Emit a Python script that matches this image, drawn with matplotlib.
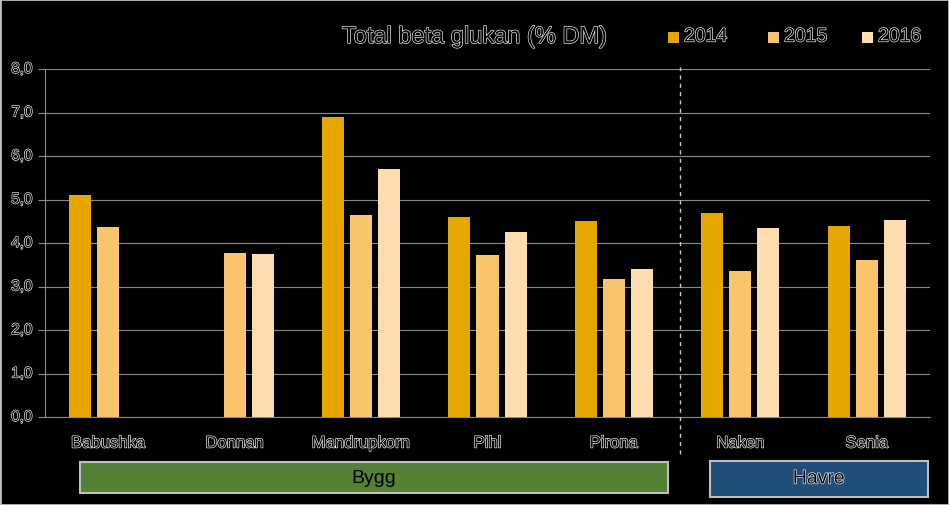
import matplotlib.pyplot as plt
import matplotlib.patheffects as pe
from matplotlib.patches import Rectangle
import numpy as np

# data
categories = ['Babushka', 'Donnan', 'Mandrupkorn', 'Pihl', 'Pirona', 'Naken', 'Senia']
years = ['2014', '2015', '2016']
v2014 = [5.1, np.nan, 6.9, 4.6, 4.5, 4.7, 4.4]
v2015 = [4.37, 3.77, 4.64, 3.72, 3.17, 3.36, 3.61]
v2016 = [np.nan, 3.75, 5.7, 4.25, 3.4, 4.34, 4.53]
groups = [('Bygg', 0, 4), ('Havre', 5, 6)]

colors = ['#E6A800', '#FAC56A', '#FDDDB0']

plt.rcParams['font.family'] = ['Liberation Sans Narrow', 'Liberation Sans', 'DejaVu Sans']


def htext(ax_or_fig, x, y, s, **kw):
    # outlined text, like the original
    t = ax_or_fig.text(x, y, s, color='black', **kw)
    t.set_path_effects([pe.Stroke(linewidth=0.9, foreground='white'), pe.Normal()])
    return t


fig = plt.figure(figsize=(9.49, 5.06), dpi=100, facecolor='black')
ax = fig.add_axes([45 / 949, 88 / 506, 885 / 949, 348 / 506])
ax.set_facecolor('black')

x = np.arange(len(categories))
w = 0.175
off = 0.222
for i, (vals, c) in enumerate(zip([v2014, v2015, v2016], colors)):
    ax.bar(x + (i - 1) * off, vals, width=w, color=c, zorder=3)

ax.set_ylim(0, 8)
ax.set_xlim(-0.5, 6.5)
ax.set_yticks(np.arange(0, 9, 1))
ax.set_yticklabels([])
ax.set_xticks([])
ax.grid(axis='y', color='#8a8a8a', linewidth=0.8, zorder=0)
for s in ['top', 'right']:
    ax.spines[s].set_visible(False)
for s in ['left', 'bottom']:
    ax.spines[s].set_color('#8a8a8a')
ax.tick_params(axis='y', length=5, color='#8a8a8a', direction='out')

# y tick labels
for yv in range(0, 9):
    htext(ax, -0.6, yv, f'{yv},0', ha='right', va='center', fontsize=11)

# category labels
for xi, name in zip(x, categories):
    htext(ax, xi, -0.6, name, ha='center', va='center', fontsize=12)

# separator line between barley and oats
ax.plot([4.52, 4.52], [-0.85, 8.05], color='#b8cce4', linestyle=(0, (3, 3)),
        linewidth=1, clip_on=False, zorder=4)

# group boxes
box_cols = {'Bygg': '#548235', 'Havre': '#1F4E79'}
box_px = {'Bygg': (80, 463, 588, 31), 'Havre': (710, 462, 218, 36)}
for name, i0, i1 in groups:
    bx, by, bw, bh = box_px[name]
    fig.patches.append(Rectangle((bx / 949, 1 - (by + bh) / 506), bw / 949, bh / 506,
                                 transform=fig.transFigure, facecolor=box_cols[name],
                                 edgecolor='#bfbfbf', linewidth=1.5))
    if name == 'Bygg':
        fig.text((bx + bw / 2) / 949, 1 - (by + bh / 2) / 506, name, color='black',
                 ha='center', va='center', fontsize=14)
    else:
        htext(fig, (bx + bw / 2) / 949, 1 - (by + bh / 2) / 506, name,
              ha='center', va='center', fontsize=14)

# title and legend
htext(fig, 475 / 949, 1 - 38 / 506, 'Total beta glukan (% DM)', ha='center', va='center', fontsize=17)
leg_x = [668, 768, 862]
for lx, yr, c in zip(leg_x, years, colors):
    fig.patches.append(Rectangle((lx / 949, 1 - 44 / 506), 11 / 949, 11 / 506,
                                 transform=fig.transFigure, facecolor=c, edgecolor='none'))
    htext(fig, (lx + 16) / 949, 1 - 38 / 506, yr, ha='left', va='center', fontsize=14)

# outer border
fig.patches.append(Rectangle((0, 0), 1, 1, transform=fig.transFigure, facecolor='none',
                             edgecolor='#bfbfbf', linewidth=2))

fig.savefig('out.png', dpi=100, facecolor='black')
